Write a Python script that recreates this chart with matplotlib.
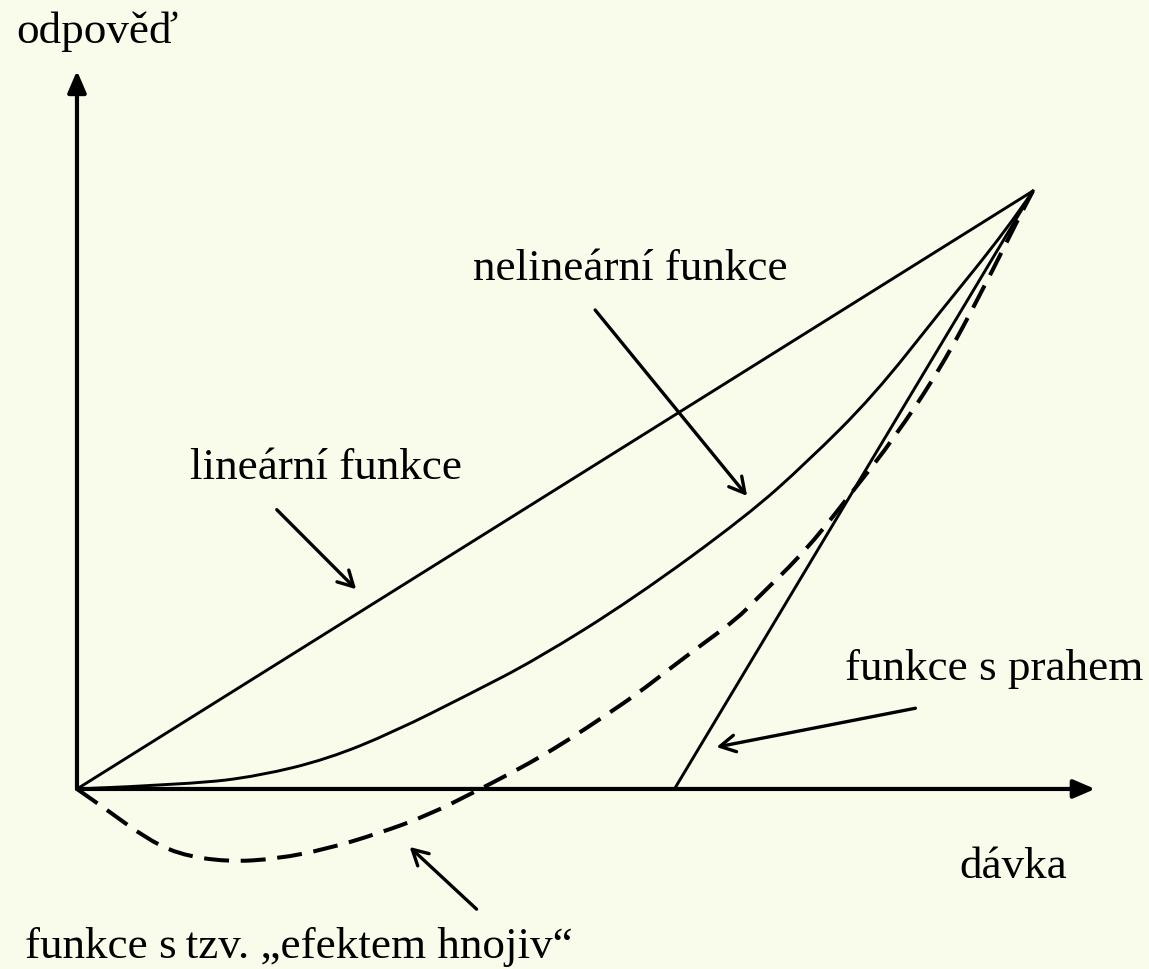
import matplotlib
matplotlib.use('Agg')
import matplotlib.pyplot as plt
from matplotlib.path import Path
from matplotlib.patches import PathPatch

plt.rcParams['font.family'] = ['Liberation Serif', 'DejaVu Serif']

# dose (x) / response (y), all curves end at (1, 1)
lin_x = [0.0, 1.0]
lin_y = [0.0, 1.0]

nonlin_x = [0.0, 0.121, 0.191, 0.262, 0.331, 0.411, 0.481, 0.582, 0.701, 0.764, 0.833, 0.903, 0.973, 1.0]
nonlin_y = [0.0, 0.008, 0.022, 0.050, 0.095, 0.159, 0.217, 0.318, 0.457, 0.547, 0.657, 0.798, 0.936, 1.0]

thr_x = [0.625, 1.0]
thr_y = [0.0, 1.0]

horm_x = [0.0, 0.035, 0.069, 0.105, 0.157, 0.209, 0.262, 0.314, 0.366, 0.422, 0.446, 0.481, 0.516,
          0.550, 0.586, 0.620, 0.655, 0.690, 0.711, 0.764, 0.816, 0.854, 0.903, 0.948, 0.986, 1.0]
horm_y = [0.0, -0.039, -0.079, -0.109, -0.122, -0.117, -0.100, -0.075, -0.045, 0.0, 0.020, 0.050, 0.084,
          0.120, 0.159, 0.201, 0.243, 0.284, 0.318, 0.401, 0.507, 0.585, 0.702, 0.836, 0.958, 1.0]

# labels: (text, x, y) and pointer arrows (start, tip)
labels = [
    ('odpověď', -0.064, 1.249),
    ('nelineární funkce', 0.414, 0.853),
    ('lineární funkce', 0.118, 0.520),
    ('funkce s prahem', 0.803, 0.184),
    ('dávka', 0.923, -0.147),
    ('funkce s\u2009tzv. „efektem hnojiv“', -0.054, -0.281),
]
pointers = [
    ((0.209, 0.467), (0.292, 0.334)),
    ((0.542, 0.801), (0.701, 0.490)),
    ((0.877, 0.135), (0.669, 0.070)),
    ((0.418, -0.201), (0.348, -0.097)),
]
x_axis_end = 1.065
y_axis_end = 1.201


def smooth(xs, ys):
    # quadratic bezier through midpoints, read points act as control points
    pts = list(zip(xs, ys))
    verts, codes = [pts[0]], [Path.MOVETO]
    for i in range(1, len(pts) - 1):
        nxt = pts[i + 1] if i == len(pts) - 2 else ((pts[i][0] + pts[i + 1][0]) / 2, (pts[i][1] + pts[i + 1][1]) / 2)
        verts += [pts[i], nxt]
        codes += [Path.CURVE3, Path.CURVE3]
    return Path(verts, codes)


BG = '#F9FCEA'
fig = plt.figure(figsize=(11.49, 9.70), dpi=100)
fig.patch.set_facecolor(BG)
ax = fig.add_axes([0.0670, 0.1856, 0.8320, 0.6165])
ax.set_xlim(0, 1); ax.set_ylim(0, 1)
ax.axis('off')

# axes with filled heads
axis_arrow = dict(arrowstyle='-|>,head_length=0.65,head_width=0.28', mutation_scale=20,
                  lw=3.0, color='black', shrinkA=0, shrinkB=0)
ax.annotate('', xy=(x_axis_end, 0), xytext=(0, 0), arrowprops=axis_arrow, annotation_clip=False)
ax.annotate('', xy=(0, y_axis_end), xytext=(0, 0), arrowprops=axis_arrow, annotation_clip=False)

ax.plot(lin_x, lin_y, color='black', lw=2.1, clip_on=False, solid_capstyle='round')
ax.plot(thr_x, thr_y, color='black', lw=2.1, clip_on=False)
ax.add_patch(PathPatch(smooth(nonlin_x, nonlin_y), fill=False, ec='black', lw=2.1,
                       joinstyle='round', clip_on=False))
ax.add_patch(PathPatch(smooth(horm_x, horm_y), fill=False, ec='black', lw=2.9,
                       linestyle=(0, (6.2, 2.9)), capstyle='butt', clip_on=False))

ptr_arrow = dict(arrowstyle='->,head_length=0.55,head_width=0.3', mutation_scale=20,
                 lw=2.4, color='black', shrinkA=0, shrinkB=0, capstyle='round')
for start, tip in pointers:
    ax.annotate('', xy=tip, xytext=start, arrowprops=ptr_arrow, annotation_clip=False)

for txt, x, y in labels:
    ax.text(x, y, txt, fontsize=32.5, ha='left', va='baseline', color='black', clip_on=False)

fig.savefig('out.png', dpi=100, facecolor=BG)
